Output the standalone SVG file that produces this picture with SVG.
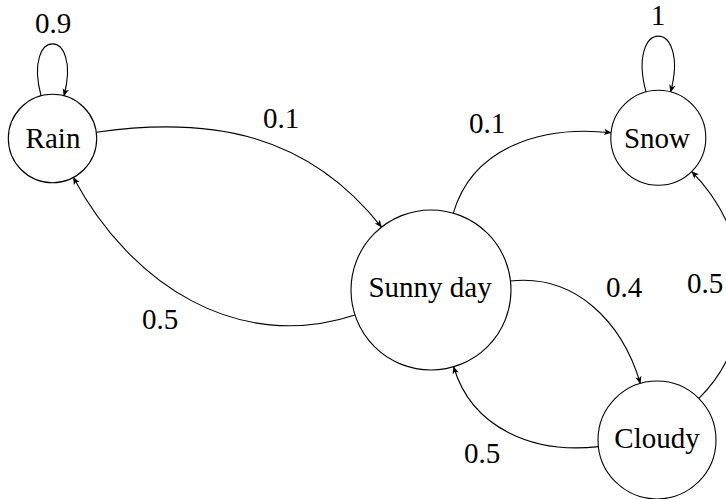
<svg xmlns="http://www.w3.org/2000/svg" width="726" height="499" viewBox="0 0 726 499">
<style>
  .node { fill: #ffffff; stroke: #000000; stroke-width: 1.1; }
  .edge { fill: none; stroke: #000000; stroke-width: 1.1; marker-end: url(#arr); }
  text { font-family: 'Liberation Serif', 'Times New Roman', 'DejaVu Serif', 'Noto Serif', serif; font-size: 29px; fill: #000000; text-anchor: middle; }
</style>
<defs>
  <marker id="arr" viewBox="-8 -4 9 8" refX="0" refY="0" markerWidth="9" markerHeight="8" markerUnits="userSpaceOnUse" orient="auto">
    <path d="M0.5,0 L-7,-3.2 L-5.2,0 L-7,3.2 Z" fill="#000000"/>
  </marker>
</defs>
<rect width="726" height="499" fill="#ffffff"/>
<g id="connectors" font-family="Liberation Serif, Times New Roman, serif">
  <path id="rain-sunny" class="edge" d="M96.25,132.21 C212.75,115.46 308.8,134.59 381.55,227.11"/>
  <path id="sunny-rain" class="edge" d="M355,314.96 C238.43,353.24 131.31,285.62 73.37,177.46"/>
  <path id="sunny-snow" class="edge" d="M453.3,213.17 C472.63,146.57 542.13,125.2 611.08,132.68"/>
  <path id="sunny-cloudy" class="edge" d="M510.5,281.04 C574.82,273.79 622,321.32 640.31,383.41"/>
  <path id="cloudy-sunny" class="edge" d="M598.37,446.61 C534.05,453.86 471.94,428.82 453.63,366.73"/>
  <path id="cloudy-snow" class="edge" d="M698.9,398.46 C762.03,335.88 754.32,234.66 691.74,171.53"/>
  <path id="rain-loop" class="edge" d="M41.06,95.81 C22.51,26.59 82.49,26.59 63.94,95.81"/>
  <path id="snow-loop" class="edge" d="M646.01,91.92 C626.09,17.56 690.51,17.56 670.59,91.92"/>
  <text x="53" y="33">0.9</text>
  <text x="658" y="25">1</text>
  <text x="281" y="128">0.1</text>
  <text x="487" y="133">0.1</text>
  <text x="160" y="329">0.5</text>
  <text x="624" y="297">0.4</text>
  <text x="705" y="293">0.5</text>
  <text x="482" y="463">0.5</text>
</g>
<g id="rain">
  <circle class="node" cx="52.5" cy="138.5" r="44.2"/>
  <text x="53" y="148">Rain</text>
</g>
<g id="snow">
  <circle class="node" cx="658.3" cy="137.8" r="47.5"/>
  <text x="657" y="148">Snow</text>
</g>
<g id="sunny">
  <circle class="node" cx="431" cy="290" r="80"/>
  <text x="430" y="297">Sunny day</text>
</g>
<g id="cloudy">
  <circle class="node" cx="657" cy="440" r="59"/>
  <text x="657" y="448">Cloudy</text>
</g>
</svg>
